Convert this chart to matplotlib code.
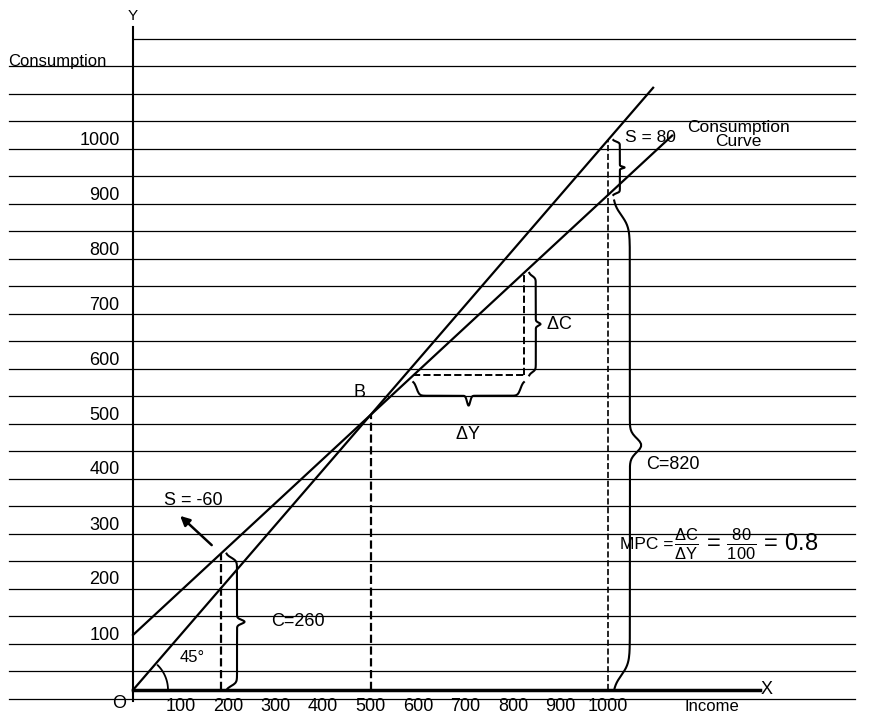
import numpy as np
import matplotlib
matplotlib.use("Agg")
import matplotlib.pyplot as plt

plt.rcParams['font.family'] = ['Liberation Sans', 'DejaVu Sans']
plt.rcParams['mathtext.fontset'] = 'custom'
plt.rcParams['mathtext.rm'] = 'Liberation Sans'
plt.rcParams['mathtext.it'] = 'Liberation Sans'

# data
income_ticks = [100, 200, 300, 400, 500, 600, 700, 800, 900, 1000]
cons_ticks = [100, 200, 300, 400, 500, 600, 700, 800, 900, 1000]
autonomous = 100
mpc = 0.8
line45_x = [0, 1095]
cons_x = [0, 1135]
point_b = 500
low_y = 185
high_y = 1000
dy_start, dy_end = 590, 823


def consumption(x):
    return autonomous + mpc * np.asarray(x, dtype=float)


def brace(ax, x, y0, y1, width, vertical=True, lw=1.5):
    # curly brace drawn as a smooth path
    t = np.linspace(0, 1, 200)
    half = np.where(t < 0.5, t * 2, (1 - t) * 2)
    bump = width * (1 / (1 + np.exp(-40 * (half - 0.06)))) * 0.6
    tip = width * 0.4 * np.exp(-((t - 0.5) / 0.02) ** 2)
    off = bump + tip
    pos = y0 + (y1 - y0) * t
    if vertical:
        ax.plot(x + off, pos, color='black', lw=lw)
    else:
        ax.plot(pos, x + off, color='black', lw=lw)


fig = plt.figure(figsize=(8.75, 7.14), dpi=100)
ax = fig.add_axes([0, 0, 1, 1])
sx, sy = 0.475, 0.55
ax.set_xlim(-133 / sx, (875 - 133) / sx)
ax.set_ylim(-24 / sy, 690 / sy)
ax.axis('off')

# ruled lines
for k in range(26):
    yy = -16 + 50 * k
    if yy > 1190:
        break
    x0 = 0 if yy > 1160 else -260
    ax.plot([x0, 1520], [yy, yy], color='black', lw=0.9)

# axes
ax.plot([0, 0], [-20, 1205], color='black', lw=1.5)
ax.plot([0, 1320], [0, 0], color='black', lw=2.5)
ax.text(1322, 0, 'X', fontsize=13, va='center', ha='left')
ax.text(0, 1212, 'Y', fontsize=11, ha='center', va='bottom')
ax.text(-30, -25, 'O', fontsize=13, ha='center', va='center')
ax.text(-262, 1142, 'Consumption', fontsize=12, va='center')
ax.text(1160, -30, 'Income', fontsize=12, va='center')

for v in income_ticks:
    ax.text(v, -30, str(v), fontsize=13, ha='center', va='center')
for v in cons_ticks:
    ax.text(-28, v, str(v), fontsize=13, ha='right', va='center')

# lines
ax.plot(line45_x, line45_x, color='black', lw=1.6)
ax.plot(cons_x, consumption(cons_x), color='black', lw=1.6)

# 45 degree arc (circular in pixels)
th = np.linspace(0, np.pi / 4, 50)
r = 35
ax.plot(r / sx * np.cos(th), r / sy * np.sin(th), color='black', lw=1.3)
ax.text(98, 60, '45°', fontsize=12, va='center')

# dashed guides
ax.plot([point_b, point_b], [0, point_b], 'k--', lw=1.6)
ax.plot([low_y, low_y], [0, consumption(low_y)], 'k--', lw=1.6)
ax.plot([high_y, high_y], [0, high_y], 'k--', lw=1.2)
ax.plot([dy_start, dy_end], [consumption(dy_start)] * 2, 'k--', lw=1.4)
ax.plot([dy_end, dy_end], [consumption(dy_start), consumption(dy_end)], 'k--', lw=1.4)
ax.text(point_b - 10, point_b + 25, 'B', fontsize=13, ha='right', va='bottom')

# braces
brace(ax, low_y + 10, 0, consumption(low_y), 40)
ax.text(290, 125, 'C=260', fontsize=13, va='center')
brace(ax, high_y + 10, 0, consumption(high_y) - 10, 60)
ax.text(1080, 410, 'C=820', fontsize=13, va='center')
brace(ax, high_y + 10, consumption(high_y), high_y, 25)
ax.text(1035, 1005, 'S = 80', fontsize=12.5, va='center')
brace(ax, dy_end + 10, consumption(dy_start), consumption(dy_end), 25)
ax.text(870, 665, r'$\Delta$C', fontsize=13, va='center')
brace(ax, consumption(dy_start) - 10, dy_start, dy_end, -45, vertical=False)
ax.text(705, 465, r'$\Delta$Y', fontsize=13, ha='center', va='center')

ax.text(1275, 1010, 'Consumption\nCurve', fontsize=12.5, ha='center', va='center',
        linespacing=0.9)
ax.annotate('', xy=(95, 320), xytext=(170, 260),
            arrowprops=dict(arrowstyle='-|>', color='black', lw=1.8, mutation_scale=14))
ax.text(65, 345, 'S = -60', fontsize=13, va='center')
ax.text(1025, 265, 'MPC = ', fontsize=12.5, va='center')
ax.text(1140, 265, r'$\frac{\Delta C}{\Delta Y}$ = $\frac{80}{100}$ = 0.8',
        fontsize=17, va='center')

fig.savefig('out.png', dpi=100)
